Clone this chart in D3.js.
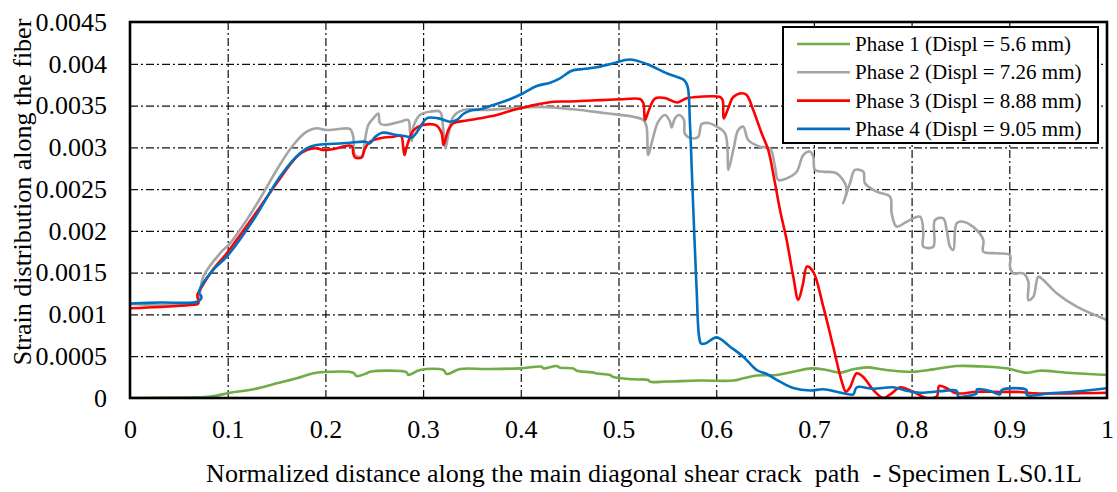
<!DOCTYPE html>
<html>
<head>
<meta charset="utf-8">
<script src="https://cdn.jsdelivr.net/npm/d3@7"></script>
<style>
  body { margin: 0; background: #fff; }
  svg text { font-family: "Liberation Serif", "Times New Roman", serif; fill: #000; }
</style>
</head>
<body>
<svg id="chart" width="1117" height="492"></svg>
<script>
// Axis ticks
const xTickValues = [0, 0.1, 0.2, 0.3, 0.4, 0.5, 0.6, 0.7, 0.8, 0.9, 1];
const xTickLabels = ["0", "0.1", "0.2", "0.3", "0.4", "0.5", "0.6", "0.7", "0.8", "0.9", "1"];
const yTickValues = [0, 0.0005, 0.001, 0.0015, 0.002, 0.0025, 0.003, 0.0035, 0.004, 0.0045];
const yTickLabels = ["0", "0.0005", "0.001", "0.0015", "0.002", "0.0025", "0.003", "0.0035", "0.004", "0.0045"];

const xTitle = "Normalized distance along the main diagonal shear crack  path  - Specimen L.S0.1L";
const yTitle = "Strain distribution along the fiber";

const seriesNames = [
  "Phase 1 (Displ = 5.6 mm)",
  "Phase 2 (Displ = 7.26 mm)",
  "Phase 3 (Displ = 8.88 mm)",
  "Phase 4 (Displ = 9.05 mm)"
];

// Strain along the fiber: [normalized distance, strain]
const phase1 = [
  [0, 0], [0.0409, 0.000004], [0.0819, 0.000016], [0.1024, 0.000063], [0.1262, 0.000104],
  [0.1467, 0.000164], [0.1706, 0.000236], [0.1876, 0.000296], [0.1978, 0.000311], [0.2285, 0.000303],
  [0.2320, 0.000263], [0.2422, 0.000296], [0.2456, 0.000315], [0.2832, 0.000308], [0.2848, 0.000275],
  [0.2968, 0.000335], [0.3207, 0.000335], [0.3241, 0.000287], [0.3378, 0.000347], [0.3651, 0.000347],
  [0.3992, 0.000355], [0.4214, 0.000375], [0.4230, 0.000355], [0.4367, 0.000383], [0.4401, 0.000363],
  [0.4537, 0.000353], [0.4572, 0.000327], [0.4742, 0.000305], [0.4776, 0.000293], [0.4913, 0.000275],
  [0.4947, 0.000251], [0.5151, 0.000224], [0.5305, 0.000215], [0.5322, 0.000195], [0.5493, 0.000197],
  [0.5834, 0.000209], [0.6175, 0.000209], [0.6277, 0.000236], [0.6414, 0.000269], [0.6619, 0.000275],
  [0.6789, 0.000315], [0.6980, 0.000355], [0.7131, 0.000335], [0.7267, 0.000303], [0.7403, 0.000343],
  [0.7540, 0.000367], [0.7745, 0.000335], [0.8017, 0.000315], [0.8222, 0.000343], [0.8461, 0.000383],
  [0.8768, 0.000375], [0.8973, 0.000355], [0.9178, 0.000303], [0.9314, 0.000327], [0.9587, 0.000303],
  [1, 0.000275]
];

const phase2 = [
  [0, 0.001125], [0.0696, 0.001149], [0.0716, 0.001257], [0.0750, 0.001452], [0.0921, 0.001732],
  [0.1024, 0.001851], [0.1194, 0.002130], [0.1364, 0.002450], [0.1501, 0.002729], [0.1671, 0.003028],
  [0.1809, 0.003187], [0.1911, 0.003228], [0.2013, 0.003207], [0.2116, 0.003216], [0.2252, 0.003219],
  [0.2285, 0.003127], [0.2303, 0.002908], [0.2371, 0.002890], [0.2405, 0.003088], [0.2439, 0.003267],
  [0.2490, 0.003347], [0.2541, 0.003405], [0.2559, 0.003288], [0.2610, 0.003267], [0.2763, 0.003307],
  [0.2848, 0.003327], [0.2866, 0.003187], [0.2883, 0.003076], [0.2900, 0.003247], [0.2968, 0.003387],
  [0.3070, 0.003426], [0.3173, 0.003426], [0.3207, 0.003207], [0.3229, 0.002988], [0.3258, 0.003148],
  [0.3309, 0.003367], [0.3411, 0.003447], [0.3651, 0.003447], [0.3889, 0.003467], [0.4196, 0.003483],
  [0.4537, 0.003455], [0.4879, 0.003407], [0.5151, 0.003367], [0.5254, 0.003327], [0.5286, 0.003255],
  [0.5305, 0.002908], [0.5356, 0.003127], [0.5407, 0.003307], [0.5476, 0.003387], [0.5527, 0.003307],
  [0.5544, 0.003237], [0.5578, 0.003347], [0.5619, 0.003387], [0.5670, 0.003327], [0.5680, 0.003160],
  [0.5752, 0.003108], [0.5817, 0.003127], [0.5851, 0.003279], [0.5919, 0.003291], [0.6005, 0.003247],
  [0.6090, 0.003168], [0.6116, 0.002968], [0.6124, 0.002729], [0.6175, 0.002968], [0.6226, 0.003207],
  [0.6277, 0.003247], [0.6328, 0.003088], [0.6448, 0.003008], [0.6550, 0.002988], [0.6602, 0.002768],
  [0.6635, 0.002609], [0.6721, 0.002629], [0.6824, 0.002708], [0.6891, 0.002908], [0.6960, 0.002948],
  [0.6994, 0.002888], [0.7011, 0.002729], [0.7096, 0.002708], [0.7233, 0.002689], [0.7335, 0.002510],
  [0.7300, 0.002330], [0.7369, 0.002570], [0.7420, 0.002729], [0.7506, 0.002708], [0.7523, 0.002570],
  [0.7642, 0.002469], [0.7779, 0.002409], [0.7796, 0.002210], [0.7847, 0.002050], [0.7950, 0.002110],
  [0.8086, 0.002170], [0.8120, 0.001971], [0.8120, 0.001811], [0.8222, 0.001811], [0.8239, 0.002130],
  [0.8324, 0.002151], [0.8359, 0.002011], [0.8393, 0.001811], [0.8427, 0.001771], [0.8461, 0.002091],
  [0.8529, 0.002110], [0.8666, 0.002011], [0.8734, 0.001891], [0.8734, 0.001751], [0.8871, 0.001732],
  [0.9007, 0.001711], [0.9007, 0.001571], [0.9041, 0.001492], [0.9143, 0.001492], [0.9195, 0.001392],
  [0.9195, 0.001173], [0.9246, 0.001212], [0.9297, 0.001452], [0.9348, 0.001412], [0.9485, 0.001253],
  [0.9690, 0.001093], [1, 0.000934]
];

const phase3 = [
  [0, 0.001074], [0.0307, 0.001089], [0.0614, 0.001113], [0.0699, 0.001131], [0.0689, 0.001233],
  [0.0716, 0.001293], [0.0839, 0.001520], [0.0990, 0.001732], [0.1262, 0.002170], [0.1501, 0.002570],
  [0.1706, 0.002888], [0.1809, 0.002968], [0.1911, 0.002988], [0.1978, 0.002968], [0.2081, 0.002980],
  [0.2269, 0.003016], [0.2285, 0.002929], [0.2303, 0.002878], [0.2371, 0.002878], [0.2405, 0.002988],
  [0.2456, 0.003067], [0.2559, 0.003108], [0.2695, 0.003127], [0.2774, 0.003136], [0.2797, 0.002992],
  [0.2810, 0.002908], [0.2832, 0.003004], [0.2900, 0.003201], [0.3002, 0.003267], [0.3139, 0.003261],
  [0.3190, 0.003168], [0.3209, 0.003028], [0.3258, 0.003207], [0.3309, 0.003288], [0.3446, 0.003321],
  [0.3582, 0.003347], [0.3753, 0.003387], [0.3923, 0.003447], [0.4094, 0.003495], [0.4333, 0.003546],
  [0.4503, 0.003549], [0.4777, 0.003563], [0.5049, 0.003575], [0.5220, 0.003578], [0.5254, 0.003531],
  [0.5271, 0.003327], [0.5305, 0.003426], [0.5373, 0.003584], [0.5476, 0.003590], [0.5596, 0.003537],
  [0.5698, 0.003587], [0.5834, 0.003606], [0.6039, 0.003602], [0.6066, 0.003566], [0.6077, 0.003345],
  [0.6124, 0.003471], [0.6175, 0.003602], [0.6261, 0.003647], [0.6312, 0.003626], [0.6379, 0.003447],
  [0.6465, 0.003168], [0.6533, 0.002968], [0.6602, 0.002570], [0.6653, 0.002250], [0.6721, 0.001891],
  [0.6789, 0.001452], [0.6840, 0.001173], [0.6888, 0.001364], [0.6929, 0.001574], [0.6994, 0.001508],
  [0.7096, 0.001093], [0.7198, 0.000614], [0.7284, 0.000203], [0.7328, 0.000075], [0.7369, 0.000126],
  [0.7438, 0.000296], [0.7505, 0.000251], [0.7608, 0.000096], [0.7710, 0.000000], [0.7796, 0.000056],
  [0.7881, 0.000128], [0.8017, 0.000075], [0.8154, 0.000000], [0.8257, 0.000016], [0.8283, 0.000144],
  [0.8359, 0.000116], [0.8461, 0.000056], [0.8666, 0.000075], [0.8904, 0.000072], [0.9109, 0.000072],
  [0.9245, 0.000056], [1, 0.000063]
];

const phase4 = [
  [0, 0.001131], [0.0307, 0.001143], [0.0696, 0.001155], [0.0732, 0.001209], [0.0706, 0.001263],
  [0.0747, 0.001370], [0.0870, 0.001556], [0.0990, 0.001691], [0.1262, 0.002130], [0.1535, 0.002649],
  [0.1740, 0.002929], [0.1842, 0.003008], [0.1911, 0.003028], [0.2013, 0.003040], [0.2149, 0.003046],
  [0.2252, 0.003055], [0.2405, 0.003067], [0.2456, 0.003048], [0.2508, 0.003124], [0.2579, 0.003175],
  [0.2730, 0.003148], [0.2832, 0.003130], [0.2886, 0.003118], [0.2958, 0.003219], [0.3037, 0.003347],
  [0.3156, 0.003347], [0.3275, 0.003307], [0.3344, 0.003327], [0.3411, 0.003399], [0.3480, 0.003438],
  [0.3582, 0.003455], [0.3718, 0.003507], [0.3889, 0.003575], [0.4025, 0.003647], [0.4163, 0.003734],
  [0.4299, 0.003774], [0.4401, 0.003826], [0.4521, 0.003917], [0.4640, 0.003937], [0.4777, 0.003958],
  [0.4947, 0.004006], [0.5118, 0.004051], [0.5288, 0.003997], [0.5493, 0.003886], [0.5598, 0.003842],
  [0.5670, 0.003806], [0.5706, 0.003734], [0.5732, 0.003267], [0.5752, 0.002669], [0.5778, 0.001891],
  [0.5800, 0.001293], [0.5824, 0.000742], [0.5845, 0.000652], [0.5886, 0.000652], [0.6005, 0.000726],
  [0.6141, 0.000614], [0.6277, 0.000494], [0.6414, 0.000335], [0.6517, 0.000287], [0.6653, 0.000195],
  [0.6789, 0.000120], [0.6960, 0.000090], [0.7096, 0.000104], [0.7233, 0.000075], [0.7335, 0.000048],
  [0.7403, 0.000044], [0.7438, 0.000128], [0.7608, 0.000111], [0.7812, 0.000128], [0.7950, 0.000087],
  [0.8086, 0.000063], [0.8290, 0.000080], [0.8461, 0.000087], [0.8478, 0.000016], [0.8564, 0.000024],
  [0.8666, 0.000056], [0.8669, 0.000104], [0.8802, 0.000084], [0.8904, 0.000044], [0.8922, 0.000096],
  [0.9175, 0.000096], [0.9180, 0.000036], [0.9416, 0.000056], [0.9655, 0.000075], [1, 0.000116]
];

const seriesData = [phase1, phase2, phase3, phase4];
const seriesColors = ["#70AD47", "#A5A5A5", "#FF0000", "#0070C0"];

// Layout
const margin = { left: 130, right: 10, top: 22, bottom: 94 };
const W = 1117, H = 492;
const innerW = W - margin.left - margin.right;   // 977
const innerH = H - margin.top - margin.bottom;   // 376

const svg = d3.select("#chart");
const g = svg.append("g").attr("transform", `translate(${margin.left},${margin.top})`);

const x = d3.scaleLinear().domain([0, 1]).range([0, innerW]);
const y = d3.scaleLinear().domain([0, 0.0045]).range([innerH, 0]);

// Dash-dot grid
const gridStyle = sel => sel.select(".domain").remove();
g.append("g")
  .attr("class", "grid-x")
  .attr("transform", `translate(0,${innerH})`)
  .call(d3.axisBottom(x).tickValues(xTickValues.slice(1, -1)).tickSize(-innerH).tickFormat(""))
  .call(gridStyle)
  .selectAll("line")
  .attr("stroke", "#111").attr("stroke-width", 1.2).attr("stroke-dasharray", "8,3,2,3");

g.append("g")
  .attr("class", "grid-y")
  .call(d3.axisLeft(y).tickValues(yTickValues.slice(1, -1)).tickSize(-innerW).tickFormat(""))
  .call(gridStyle)
  .selectAll("line")
  .attr("stroke", "#111").attr("stroke-width", 1.2).attr("stroke-dasharray", "8,3,2,3");

// Series
svg.append("defs").append("clipPath").attr("id", "plot-clip")
  .append("rect").attr("x", 0).attr("y", -2).attr("width", innerW).attr("height", innerH + 2);

const line = d3.line()
  .x(d => x(d[0]))
  .y(d => y(d[1]))
  .curve(d3.curveCatmullRom.alpha(0.5));

const lines = g.append("g").attr("clip-path", "url(#plot-clip)");
seriesData.forEach((data, i) => {
  lines.append("path")
    .datum(data)
    .attr("fill", "none")
    .attr("stroke", seriesColors[i])
    .attr("stroke-width", 2.6)
    .attr("stroke-linejoin", "round")
    .attr("stroke-linecap", "round")
    .attr("d", line);
});

// Frame
g.append("rect")
  .attr("x", 0).attr("y", 0).attr("width", innerW).attr("height", innerH)
  .attr("fill", "none").attr("stroke", "#000").attr("stroke-width", 2.6);

// Tick labels
const xAxis = g.append("g")
  .attr("transform", `translate(0,${innerH})`)
  .call(d3.axisBottom(x).tickValues(xTickValues).tickSize(0).tickPadding(0)
    .tickFormat((d, i) => xTickLabels[i]));
xAxis.select(".domain").remove();
xAxis.selectAll("text")
  .attr("y", 40).attr("dy", null)
  .style("font-size", "26px")
  .style("font-family", "'Liberation Serif', 'Times New Roman', serif");

const yAxis = g.append("g")
  .call(d3.axisLeft(y).tickValues(yTickValues).tickSize(0).tickPadding(0)
    .tickFormat((d, i) => yTickLabels[i]));
yAxis.select(".domain").remove();
yAxis.selectAll("text")
  .attr("x", -23).attr("dy", "0.32em")
  .style("font-size", "26px")
  .style("font-family", "'Liberation Serif', 'Times New Roman', serif");

// Axis titles
svg.append("text")
  .attr("x", 644).attr("y", 482)
  .attr("text-anchor", "middle")
  .style("font-size", "26px")
  .style("white-space", "pre")
  .text(xTitle);

svg.append("text")
  .attr("transform", `translate(31,192) rotate(-90)`)
  .attr("text-anchor", "middle")
  .style("font-size", "26px")
  .text(yTitle);

// Legend
const legend = svg.append("g").attr("transform", "translate(783,27)");
legend.append("rect")
  .attr("width", 315).attr("height", 116)
  .attr("fill", "#fff").attr("stroke", "#000").attr("stroke-width", 2);
seriesNames.forEach((name, i) => {
  const row = legend.append("g").attr("transform", `translate(0,${17 + i * 28.3})`);
  row.append("line")
    .attr("x1", 14).attr("x2", 67).attr("y1", 0).attr("y2", 0)
    .attr("stroke", seriesColors[i]).attr("stroke-width", 2.6);
  row.append("text")
    .attr("x", 72).attr("y", 7)
    .style("font-size", "21px")
    .text(name);
});
</script>
</body>
</html>
